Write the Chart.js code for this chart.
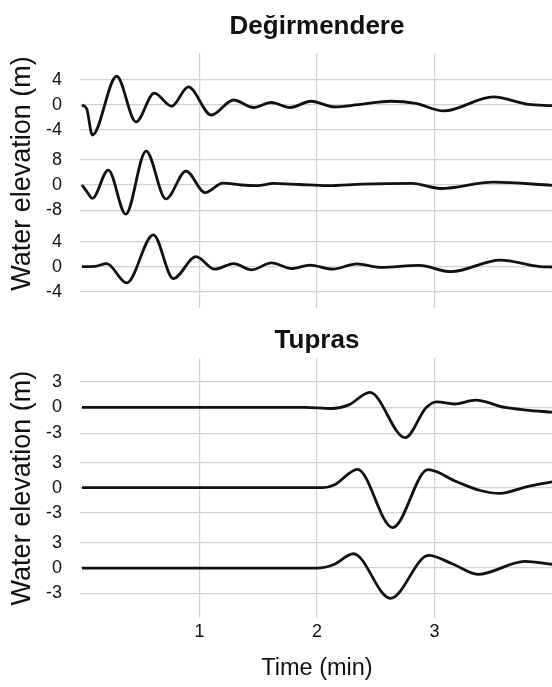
<!DOCTYPE html>
<html>
<head>
<meta charset="utf-8">
<script src="https://cdn.jsdelivr.net/npm/chart.js@4.4.1/dist/chart.umd.min.js"></script>
<style>
  html, body { margin: 0; padding: 0; background: #fff; }
  .panel { position: absolute; left: 0; width: 552px; }
</style>
</head>
<body>
<div class="panel" style="top:0;height:325px"><canvas id="degChart"></canvas></div>
<div class="panel" style="top:325px;height:362px"><canvas id="tupChart"></canvas></div>
<script>
// Water elevation records (m) against time (min) at two sites, three gauges each.

// Değirmendere
const degTimeA = [0, 0.04, 0.088, 0.295, 0.46, 0.615, 0.763, 0.905, 1.10, 1.29, 1.46, 1.61, 1.77, 1.95, 2.15, 2.35, 2.63, 2.84, 3.08, 3.50, 3.80, 4.0];
const degElevA = [0, -0.6, -4.8, 4.6, -2.7, 1.9, -0.2, 2.9, -1.6, 0.8, -0.4, 0.4, -0.4, 0.6, -0.3, 0.05, 0.6, 0.25, -0.95, 1.3, 0.1, -0.1];

const degTimeB = [0, 0.04, 0.088, 0.224, 0.372, 0.545, 0.715, 0.885, 1.047, 1.20, 1.36, 1.49, 1.63, 1.85, 2.09, 2.39, 2.81, 3.05, 3.50, 4.0];
const degElevB = [0, -2.0, -4.2, 4.7, -9.2, 10.7, -4.4, 4.4, -2.4, 0.6, 0.0, -0.2, 0.5, 0.15, -0.2, 0.3, 0.5, -1.1, 0.9, -0.1];

const degTimeC = [0, 0.11, 0.21, 0.38, 0.607, 0.777, 0.97, 1.13, 1.29, 1.444, 1.614, 1.785, 1.94, 2.13, 2.34, 2.54, 2.87, 3.14, 3.56, 3.90, 4.0];
const degElevC = [0, 0.05, 0.5, -2.6, 5.1, -1.9, 1.6, -0.4, 0.5, -0.5, 0.6, -0.3, 0.25, -0.4, 0.45, -0.1, 0.2, -0.8, 1.05, 0.0, -0.05];

// Tupras
const tupTimeA = [0, 1.9, 2.12, 2.27, 2.45, 2.75, 2.93, 3.02, 3.17, 3.35, 3.6, 3.78, 4.0];
const tupElevA = [0, 0, -0.12, 0.3, 1.75, -3.5, 0.0, 0.65, 0.4, 0.85, 0.0, -0.3, -0.55];

const tupTimeB = [0, 2.05, 2.15, 2.344, 2.643, 2.945, 3.19, 3.39, 3.56, 3.78, 4.0];
const tupElevB = [0, 0, 0.35, 2.2, -4.8, 2.15, 0.7, -0.35, -0.7, 0.1, 0.7];

const tupTimeC = [0, 2.0, 2.14, 2.31, 2.625, 2.95, 3.16, 3.37, 3.77, 4.0];
const tupElevC = [0, 0, 0.4, 1.7, -3.6, 1.5, 0.45, -0.75, 0.8, 0.45];

// Tick values
const degTicksA = [-4, 0, 4];
const degTicksB = [-8, 0, 8];
const degTicksC = [-4, 0, 4];
const tupTicks = [-3, 0, 3];
const timeTicks = [1, 2, 3];

const FONT = "'Liberation Sans', Arial, Helvetica, sans-serif";
const INK = '#111111';
const GRID = '#d2d2d2';

function points(t, h) {
  return t.map((x, i) => ({ x: x, y: h[i] }));
}

function lineSet(t, h, axisId) {
  return {
    data: points(t, h),
    yAxisID: axisId,
    borderColor: INK,
    borderWidth: 2.8,
    pointRadius: 0,
    cubicInterpolationMode: 'monotone',
    fill: false,
    clip: false
  };
}

function fixedTicks(values) {
  return axis => { axis.ticks = values.map(v => ({ value: v })); };
}

// one row of a stacked set of y axes sharing the left margin
function rowAxis(min, max, weight, ticks, withTitle) {
  return {
    type: 'linear',
    position: 'left',
    stack: 'rows',
    stackWeight: weight,
    min: min,
    max: max,
    clip: false,
    afterBuildTicks: fixedTicks(ticks),
    afterFit: axis => {
      axis.width = 82;
      axis.paddingTop = 0;
      axis.paddingBottom = 0;
    },
    grid: { color: GRID, lineWidth: 1.2, drawTicks: true, tickLength: 2, tickColor: GRID },
    border: { display: false },
    ticks: { font: { family: FONT, size: 18 }, color: INK, padding: 18, autoSkip: false },
    title: {
      display: withTitle,
      text: 'Water elevation (m)',
      font: { family: FONT, size: 27 },
      color: INK,
      padding: { top: 6, bottom: 0 }
    }
  };
}

function timeAxis(showLabels) {
  return {
    type: 'linear',
    min: 0,
    max: 4,
    afterBuildTicks: fixedTicks(timeTicks),
    grid: { color: GRID, lineWidth: 1.2, drawTicks: false },
    border: { display: false },
    ticks: { display: showLabels, font: { family: FONT, size: 18 }, color: INK, padding: 3, autoSkip: false },
    title: {
      display: showLabels,
      text: 'Time (min)',
      font: { family: FONT, size: 23.5 },
      color: INK,
      padding: { top: 9, bottom: 4 }
    }
  };
}

function panelTitle(text, padTop, padBottom) {
  return {
    display: true,
    fullSize: false,
    text: text,
    font: { family: FONT, size: 26, weight: 'bold', lineHeight: 1 },
    color: INK,
    padding: { top: padTop, bottom: padBottom }
  };
}

const common = {
  responsive: true,
  maintainAspectRatio: false,
  animation: false,
  devicePixelRatio: 1,
  events: []
};

new Chart(document.getElementById('degChart'), {
  type: 'line',
  data: {
    datasets: [
      lineSet(degTimeA, degElevA, 'yA'),
      lineSet(degTimeB, degElevB, 'yB'),
      lineSet(degTimeC, degElevC, 'yC')
    ]
  },
  options: Object.assign({}, common, {
    layout: { padding: { left: 0, right: 0, top: 0, bottom: 17 } },
    plugins: {
      legend: { display: false },
      tooltip: { enabled: false },
      title: panelTitle('Değirmendere', 14, 13)
    },
    scales: {
      x: timeAxis(false),
      yC: rowAxis(-6.61, 8.11, 92, degTicksC, false),
      yB: rowAxis(-9.78, 17.03, 85, degTicksB, true),
      yA: rowAxis(-4.16, 8.32, 78, degTicksA, false)
    }
  })
});

new Chart(document.getElementById('tupChart'), {
  type: 'line',
  data: {
    datasets: [
      lineSet(tupTimeA, tupElevA, 'yA'),
      lineSet(tupTimeB, tupElevB, 'yB'),
      lineSet(tupTimeC, tupElevC, 'yC')
    ]
  },
  options: Object.assign({}, common, {
    layout: { padding: { left: 0, right: 0, top: 0, bottom: 0 } },
    plugins: {
      legend: { display: false },
      tooltip: { enabled: false },
      title: panelTitle('Tupras', 3, 4)
    },
    scales: {
      x: timeAxis(true),
      yC: rowAxis(-5.96, 4.35, 1, tupTicks, false),
      yB: rowAxis(-5.27, 5.15, 1, tupTicks, true),
      yA: rowAxis(-4.32, 5.73, 1, tupTicks, false)
    }
  })
});
</script>
</body>
</html>
